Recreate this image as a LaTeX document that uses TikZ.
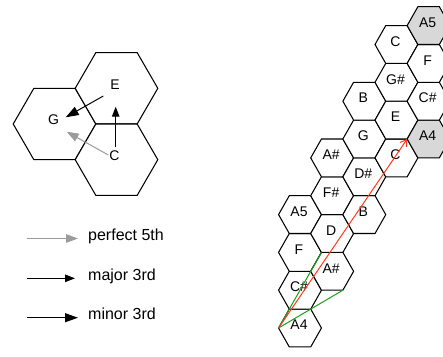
\documentclass[tikz,border=0pt]{standalone}
\usepackage{fontspec}
\setmainfont{Liberation Sans}
\usetikzlibrary{arrows.meta}
\definecolor{hexgray}{HTML}{D8D8D8}
\definecolor{arrowgray}{HTML}{9B9B9B}
\definecolor{redline}{HTML}{FF3B1E}
\definecolor{greenline}{HTML}{1E9A1E}
\newcommand\hexagonat[4]{%
  \filldraw[hexline,fill=#4] (#1) +(-#2,0) -- +(-#2/2,-#3) -- +(#2/2,-#3) -- +(#2,0) -- +(#2/2,#3) -- +(-#2/2,#3) -- cycle;}
\begin{document}
\begin{tikzpicture}[x=1pt,y=-1pt,
  hexline/.style={draw=black,line width=1.05pt,line join=miter},
  lab/.style={anchor=base,inner sep=0pt,font=\fontsize{14}{16}\selectfont},
  legendtext/.style={anchor=base west,inner sep=0pt,font=\fontsize{16}{18}\selectfont},
  fifth/.style={draw=arrowgray,line width=1pt,-{Triangle[length=12pt,width=8.5pt]},arrowgray},
  majorthird/.style={draw=black,line width=1pt,-{Triangle[length=10pt,width=7.5pt]}},
  minorthird/.style={draw=black,line width=1pt,-{Triangle[length=13pt,width=9pt]}},
  redarrow/.style={draw=redline,line width=1pt,-{Straight Barb[length=6pt,width=8pt]}},
  greenline/.style={draw=greenline,line width=1pt}]
\useasboundingbox (0,0) rectangle (443,356);
\clip (0,0) rectangle (443,356);
% ---- left diagram ----
\coordinate (cG) at (54.5,124);
\coordinate (cE) at (116.5,88.3);
\coordinate (cC) at (116.5,159.7);
\hexagonat{cG}{41.3}{35.7}{white}
\hexagonat{cE}{41.3}{35.7}{white}
\hexagonat{cC}{41.3}{35.7}{white}
\node[lab] (nE) at (115,89.3) {E};
\node[lab] (nG) at (53.5,124.7) {G};
\node[lab] (nC) at (114.5,160.7) {C};
\coordinate (eS) at (103.3,96);
\coordinate (gT1) at (65.7,117.3);
\coordinate (cS1) at (115.7,147.3);
\coordinate (eT) at (115.7,106.7);
\coordinate (cS2) at (108.3,155);
\coordinate (gT2) at (66.7,131.7);
\draw[minorthird] (eS) -- (gT1);
\draw[majorthird] (cS1) -- (eT);
\draw[fifth] (cS2) -- (gT2);
% ---- legend ----
\coordinate (p1) at (27,238.5);
\coordinate (p2) at (78,238.5);
\coordinate (m1) at (27,278.3);
\coordinate (m2) at (75,278.3);
\coordinate (n1) at (27,317.7);
\coordinate (n2) at (78,317.7);
\draw[fifth] (p1) -- (p2);
\draw[majorthird] (m1) -- (m2);
\draw[minorthird] (n1) -- (n2);
\node[legendtext] (tp) at (88,240.5) {perfect 5th};
\node[legendtext] (tm) at (88,280) {major 3rd};
\node[legendtext] (tn) at (88,319.5) {minor 3rd};
% ---- right grid ----
\foreach \c/\k/\t/\f [count=\i] in {
  1/0/A4/white, 1/2/C\#/white, 1/4/F/white, 1/6/A5/white,
  2/3/A\#/white, 2/5/D/white, 2/7/F\#/white, 2/9/A\#/white,
  3/6/B/white, 3/8/D\#/white, 3/10/G/white, 3/12/B/white,
  4/9/C/white, 4/11/E/white, 4/13/G\#/white, 4/15/C/white,
  5/10/A4/hexgray, 5/12/C\#/white, 5/14/F/white, 5/16/A5/hexgray}{
  \coordinate (g\i) at ({300+(\c-1)*32.15},{328-\k*18.9});
  \hexagonat{g\i}{21.45}{18.9}{\f}
  \node[lab] (gl\i) at ([xshift=-1pt,yshift=-1.7pt]g\i) {\t};
}
\path (g1) ++(-21.45,0) coordinate (sv);
\path (g3) ++(21.45,0) coordinate (fv);
\path (g5) ++(10.72,18.9) coordinate (av);
\path (g17) ++(-21.45,0) coordinate (tv);
\draw[greenline] (sv) -- (fv);
\draw[greenline] (sv) -- (av);
\draw[redarrow] (sv) -- (tv);
\end{tikzpicture}
\end{document}
